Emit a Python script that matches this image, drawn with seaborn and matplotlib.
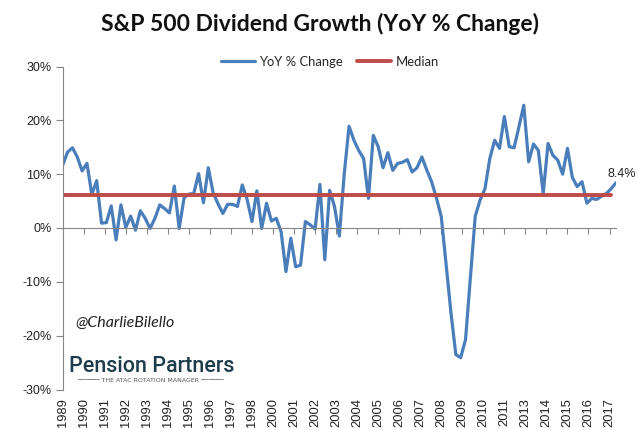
import numpy as np
import pandas as pd
import matplotlib
matplotlib.use("Agg")
import matplotlib.pyplot as plt
from matplotlib.ticker import FuncFormatter
import seaborn as sns

# ---- data (quarterly, starting March 1989) ----
yoy_change = [
    11.7, 14.1, 14.9, 13.2, 10.6, 12.0, 6.2, 8.8, 0.9, 1.0,
    4.1, -2.2, 4.3, 0.1, 2.2, -0.4, 3.2, 1.8, -0.1, 1.8,
    4.3, 3.6, 2.8, 7.8, -0.1, 5.6, 6.3, 6.4, 10.1, 4.7,
    11.2, 6.5, 4.5, 2.7, 4.4, 4.4, 4.0, 8.0, 5.3, 1.2,
    6.9, -0.1, 4.6, 1.3, 1.8, -0.7, -8.1, -1.9, -7.2, -6.9,
    1.2, 0.6, -0.2, 8.1, -5.9, 7.0, 4.0, -1.5, 10.0, 18.9,
    16.3, 14.4, 12.9, 5.5, 17.2, 15.1, 11.2, 14.0, 10.7, 12.0,
    12.2, 12.7, 10.4, 11.2, 13.2, 10.8, 8.6, 5.6, 2.1, -6.8,
    -15.8, -23.5, -24.1, -20.7, -9.2, 2.2, 5.2, 7.3, 12.9, 16.3,
    14.8, 20.7, 15.1, 14.9, 18.8, 22.8, 12.3, 15.6, 14.4, 6.4,
    15.7, 13.5, 12.6, 10.0, 14.8, 9.4, 7.7, 8.6, 4.6, 5.5,
    5.3, 5.9, 6.4, 7.3, 8.4,
]
median_value = 6.2
tick_labels = ["1989", "1990", "1991", "1992", "1993", "1994", "1995", "1996",
               "1997", "1998", "2000", "2001", "2002", "2003", "2004", "2005",
               "2006", "2007", "2008", "2009", "2010", "2011", "2013", "2014",
               "2015", "2016", "2017"]
y_ticks = [-30, -20, -10, 0, 10, 20, 30]
title = "S&P 500 Dividend Growth (YoY % Change)"
series_name = "YoY % Change"
median_name = "Median"

# ---- layout constants ----
MONTHS_PER_POINT = 3
MONTHS_PER_LABEL = 13
W, H = 639, 428

sns.set_theme(style="white")
plt.rcParams["font.family"] = ["Liberation Sans", "DejaVu Sans"]
plt.rcParams["axes.unicode_minus"] = False

months = np.arange(len(yoy_change)) * MONTHS_PER_POINT
df = pd.DataFrame({"month": months, series_name: yoy_change})
med_df = pd.DataFrame({"month": months[:-1],
                       median_name: np.full(len(months) - 1, median_value)})

fig = plt.figure(figsize=(W / 100, H / 100), dpi=100)
left, right, top, bottom = 62.7, 616.0, 66.5, 389.5
ax = fig.add_axes([left / W, 1 - bottom / H, (right - left) / W, (bottom - top) / H])

sns.lineplot(data=df, x="month", y=series_name, ax=ax, color="#4a7ebb",
             linewidth=2.3, label=series_name)
sns.lineplot(data=med_df, x="month", y=median_name, ax=ax, color="#be4b48",
             linewidth=2.8, label=median_name)

ax.set_xlim(0, months[-1])
ax.set_ylim(y_ticks[0], y_ticks[-1])
ax.set_xlabel("")
ax.set_ylabel("")

gray = "#868686"
for s in ["top", "right"]:
    ax.spines[s].set_visible(False)
ax.spines["left"].set_color(gray)
ax.spines["left"].set_linewidth(0.8)
ax.spines["bottom"].set_position(("data", 0))
ax.spines["bottom"].set_color(gray)
ax.spines["bottom"].set_linewidth(0.8)

tick_pos = np.arange(len(tick_labels)) * MONTHS_PER_LABEL
ax.set_xticks(tick_pos)
ax.tick_params(axis="x", bottom=True, direction="out", length=4, width=0.8,
               color=gray, labelbottom=False)
ax.set_yticks(y_ticks)
ax.yaxis.set_major_formatter(FuncFormatter(lambda v, p: f"{v:.0f}%"))
ax.tick_params(axis="y", left=True, direction="out", length=5, width=0.8,
               color=gray, labelsize=9, labelcolor="#222222", pad=3)

sec = ax.secondary_xaxis("bottom")
sec.set_xticks(tick_pos, labels=tick_labels, rotation=90)
sec.tick_params(length=0, pad=6, labelsize=9.3, labelcolor="#222222")
sec.spines["bottom"].set_visible(False)

# last value label
ax.annotate(f"{yoy_change[-1]:.1f}%", xy=(months[-1], yoy_change[-1]),
            xytext=(6, 3), textcoords="offset pixels", ha="center", va="bottom",
            fontsize=9, color="#222222", annotation_clip=False)

ax.get_legend().remove()
handles, labels = ax.get_legend_handles_labels()
fig.legend(handles, labels, loc="center", bbox_to_anchor=(330 / W, 1 - 62 / H),
           ncol=2, frameon=False, handlelength=2.6, handletextpad=0.3,
           columnspacing=1.1, prop={"family": ["Lato", "DejaVu Sans"], "size": 9.4})

fig.text(320 / W, 1 - 24 / H, title, ha="center", va="center", fontsize=16.5,
         fontweight="bold", family=["Lato", "DejaVu Sans"], color="#111111")

# watermark
fig.text(75 / W, 1 - 323 / H, "@CharlieBilello", ha="left", va="center",
         fontsize=11.5, style="italic", family=["Lato", "DejaVu Sans"], color="#222222")
fig.text(69 / W, 1 - 372 / H, "Pension Partners", ha="left", va="baseline",
         fontsize=15.5, fontweight="medium",
         family=["Roboto", "DejaVu Sans"], color="#1e3d4c")
fig.text(150 / W, 1 - 381 / H, "────── THE ATAC ROTATION MANAGER ──────",
         ha="center", va="center", fontsize=4.5, family=["DejaVu Sans"],
         color="#555555")

fig.savefig("out.png", dpi=100)
